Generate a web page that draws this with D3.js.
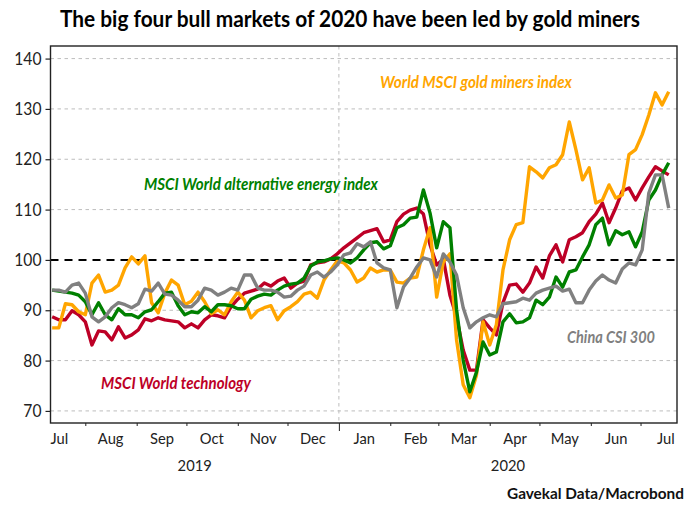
<!DOCTYPE html>
<html>
<head>
<meta charset="utf-8">
<script src="https://cdn.jsdelivr.net/npm/d3@7"></script>
<style>
  html, body { margin: 0; padding: 0; background: #fff; }
  svg { display: block; }
  text { font-family: Lato, "Open Sans", sans-serif; }
</style>
</head>
<body>
<div id="chart"></div>
<script>
// readings, one every 4 days from 12 Jul 2019
const firstDay = new Date(2019, 6, 12)
const stepDays = 4

const goldMiners = [
  86.5, 86.5, 91.3, 91.1, 89.7, 89.1, 95.4, 97.0, 93.6, 94.0,
  95.0, 98.4, 100.6, 99.2, 100.8, 91.5, 89.5, 93.4, 96.0, 95.0,
  91.1, 91.8, 93.6, 91.7, 89.3, 90.1, 89.1, 91.7, 93.6, 92.0,
  88.5, 89.9, 90.5, 90.9, 88.1, 89.9, 90.7, 91.7, 93.2, 93.6,
  92.4, 96.0, 98.0, 99.8, 99.4, 98.0, 95.6, 96.4, 98.4, 97.6,
  98.0, 98.0, 95.6, 95.4, 96.4, 96.6, 102.0, 106.4, 92.6, 99.6,
  101.2, 84.1, 75.2, 72.6, 77.1, 87.7, 83.1, 87.1, 98.0, 104.0,
  107.0, 107.4, 118.5, 117.5, 116.3, 118.3, 118.9, 120.9, 127.4, 121.9,
  115.9, 118.3, 111.3, 111.9, 114.9, 112.3, 112.9, 120.9, 121.9, 124.9,
  128.8, 133.2, 130.8, 133.4
]

const altEnergy = [
  94.0, 93.8, 93.6, 93.4, 93.0, 91.7, 89.1, 91.5, 89.1, 88.1,
  90.3, 89.1, 89.1, 88.5, 89.7, 90.1, 91.7, 93.4, 93.6, 90.9,
  89.1, 89.7, 89.5, 90.7, 89.7, 91.1, 91.1, 90.9, 90.3, 90.3,
  92.2, 92.8, 93.2, 93.0, 94.0, 94.8, 95.2, 95.4, 96.4, 98.8,
  99.6, 99.8, 100.2, 100.4, 100.0, 99.4, 100.4, 102.0, 103.4, 103.6,
  102.2, 102.8, 106.4, 107.0, 108.3, 108.5, 113.9, 109.3, 102.4, 107.6,
  106.4, 90.1, 80.1, 73.8, 77.7, 83.7, 81.1, 81.7, 87.7, 89.3,
  87.5, 87.7, 88.5, 92.0, 91.1, 92.6, 96.6, 94.6, 97.6, 98.0,
  100.6, 103.0, 107.0, 108.3, 103.0, 105.8, 105.0, 105.6, 102.6, 105.6,
  111.9, 113.9, 116.9, 119.3
]

const technology = [
  88.7, 88.1, 88.1, 89.9, 89.1, 87.7, 83.1, 85.9, 85.7, 84.1,
  86.7, 84.5, 85.1, 86.1, 88.3, 87.9, 88.5, 88.1, 87.9, 87.7,
  86.5, 87.3, 86.5, 88.1, 89.1, 88.9, 88.5, 90.7, 92.2, 93.4,
  93.8, 94.2, 95.4, 94.8, 95.8, 96.4, 94.4, 95.4, 95.8, 99.0,
  99.4, 99.6, 100.2, 101.2, 102.4, 103.4, 104.4, 105.4, 105.8, 106.2,
  103.6, 104.0, 107.6, 109.1, 109.9, 110.3, 109.1, 103.0, 99.0, 100.2,
  93.0, 88.7, 82.1, 78.1, 78.1, 88.1, 86.5, 85.1, 91.5, 95.0,
  95.2, 93.6, 95.4, 98.6, 96.4, 100.8, 103.0, 99.6, 104.0, 104.6,
  105.4, 107.6, 109.1, 111.3, 107.4, 110.3, 113.7, 114.3, 111.9, 114.3,
  116.5, 118.5, 117.7, 116.9
]

const csi300 = [
  94.0, 94.0, 93.6, 95.0, 95.4, 93.4, 88.7, 87.7, 88.7, 90.5,
  91.5, 91.1, 90.5, 91.3, 94.2, 93.8, 95.4, 93.2, 93.0, 92.0,
  90.7, 90.7, 92.0, 94.4, 94.0, 93.0, 93.6, 94.4, 94.0, 97.0,
  97.0, 94.4, 94.0, 94.0, 93.6, 92.6, 92.8, 94.0, 94.8, 97.0,
  97.6, 96.6, 97.6, 99.0, 101.0, 101.4, 103.2, 102.6, 103.6, 99.4,
  98.4, 98.0, 90.5, 94.6, 96.4, 98.6, 100.4, 100.0, 96.6, 101.2,
  99.6, 97.0, 90.5, 86.5, 87.7, 88.5, 89.1, 88.7, 91.3, 91.5,
  91.7, 92.4, 92.0, 93.4, 94.0, 94.4, 94.8, 93.8, 94.2, 91.5,
  91.5, 94.0, 95.8, 97.0, 96.0, 95.4, 98.2, 99.4, 99.0, 102.0,
  113.3, 116.9, 116.9, 110.3
]

const yTicks = [70, 80, 90, 100, 110, 120, 130, 140]
const monthLabels = ["Jul", "Aug", "Sep", "Oct", "Nov", "Dec", "Jan", "Feb", "Mar", "Apr", "May", "Jun", "Jul"]
const yearLabels = ["2019", "2020"]

const colors = { gold: "#ffa500", energy: "#008000", tech: "#bd0026", csi: "#808080" }

const width = 700
const height = 507
const plot = { left: 50.5, right: 677, top: 46, bottom: 423 }

const svg = d3.select("#chart").append("svg")
  .attr("width", width)
  .attr("height", height)

const xStart = new Date(2019, 6, 11)
const xEnd = new Date(2020, 6, 23)
const yearBreak = new Date(2020, 0, 1)

const x = d3.scaleTime().domain([xStart, xEnd]).range([plot.left, plot.right])
const y = d3.scaleLinear().domain([67.6, 142.5]).range([plot.bottom, plot.top])

// narrows a label a little, the reference font is more condensed than Lato
const squeeze = (sel, ratio) => sel.each(function () {
  d3.select(this)
    .attr("textLength", this.getComputedTextLength() * ratio)
    .attr("lengthAdjust", "spacingAndGlyphs")
})

// gridlines
svg.append("g").selectAll("line")
  .data(yTicks.filter(d => d !== 100))
  .enter()
    .append("line")
    .attr("x1", plot.left)
    .attr("x2", plot.right)
    .attr("y1", d => y(d))
    .attr("y2", d => y(d))
    .attr("stroke", "#bdbdbd")
    .attr("stroke-width", 1)
    .attr("stroke-dasharray", "3.5,3.5")

svg.append("line")
  .attr("x1", x(yearBreak))
  .attr("x2", x(yearBreak))
  .attr("y1", plot.top)
  .attr("y2", plot.bottom)
  .attr("stroke", "#bdbdbd")
  .attr("stroke-width", 1)
  .attr("stroke-dasharray", "3.5,3.5")

svg.append("line")
  .attr("x1", plot.left)
  .attr("x2", plot.right)
  .attr("y1", y(100))
  .attr("y2", y(100))
  .attr("stroke", "#000")
  .attr("stroke-width", 2)
  .attr("stroke-dasharray", "8,6")

// series
const line = d3.line()
  .x((d, i) => x(d3.timeDay.offset(firstDay, i * stepDays)))
  .y(d => y(d))

const series = [
  [technology, colors.tech],
  [goldMiners, colors.gold],
  [altEnergy, colors.energy],
  [csi300, colors.csi]
]

svg.append("g").selectAll("path")
  .data(series)
  .enter()
    .append("path")
    .attr("d", d => line(d[0]))
    .attr("fill", "none")
    .attr("stroke", d => d[1])
    .attr("stroke-width", 3.4)
    .attr("stroke-linejoin", "round")

// axes
const yAxis = d3.axisLeft(y).tickValues(yTicks).tickSize(5).tickPadding(4)
const gy = svg.append("g")
  .attr("transform", `translate(${plot.left},0)`)
  .call(yAxis)
gy.select(".domain").remove()
gy.selectAll(".tick line").attr("stroke", "#222").attr("stroke-width", 1.2)
gy.selectAll("text")
  .attr("font-size", 17)
  .attr("fill", "#222")
  .style("font-family", "Lato, sans-serif")
  .call(squeeze, 0.92)

const monthStarts = d3.timeMonth.range(new Date(2019, 7, 1), xEnd)
const xTickAxis = d3.axisBottom(x).tickValues(monthStarts).tickSize(3).tickFormat("")
const gx = svg.append("g")
  .attr("transform", `translate(0,${plot.bottom})`)
  .call(xTickAxis)
gx.select(".domain").remove()
gx.selectAll(".tick line")
  .attr("stroke", "#222")
  .attr("y2", d => +d === +yearBreak ? 8 : 3)

const monthMids = d3.timeMonth.range(new Date(2019, 6, 1), new Date(2020, 7, 1))
  .map(d => d3.timeDay.offset(d, 15))

const labelAxis = d3.axisBottom(x)
  .tickValues(monthMids)
  .tickSize(0)
  .tickFormat((d, i) => monthLabels[i])
const gl = svg.append("g")
  .attr("transform", "translate(0,430)")
  .call(labelAxis)
gl.select(".domain").remove()
gl.selectAll("text")
  .attr("font-size", 16)
  .attr("fill", "#222")
  .style("font-family", "Lato, sans-serif")
  .call(squeeze, 0.92)

svg.append("g").selectAll("text")
  .data(yearLabels)
  .enter()
    .append("text")
    .attr("x", (d, i) => i === 0 ? (plot.left + x(yearBreak)) / 2 : (x(yearBreak) + plot.right) / 2)
    .attr("y", 471)
    .attr("text-anchor", "middle")
    .attr("font-size", 16)
    .attr("fill", "#222")
    .text(d => d)
    .call(squeeze, 0.92)

svg.append("rect")
  .attr("x", plot.left)
  .attr("y", plot.top)
  .attr("width", plot.right - plot.left)
  .attr("height", plot.bottom - plot.top)
  .attr("fill", "none")
  .attr("stroke", "#222")
  .attr("stroke-width", 1.4)

// title, series labels, source
const addText = (str, px, py, len, size, color, italic) => svg.append("text")
  .attr("x", px)
  .attr("y", py)
  .attr("textLength", len)
  .attr("lengthAdjust", "spacingAndGlyphs")
  .attr("font-size", size)
  .attr("font-weight", 700)
  .attr("font-style", italic ? "italic" : "normal")
  .attr("fill", color)
  .text(str)

addText("The big four bull markets of 2020 have been led by gold miners", 60, 27, 580, 22.5, "#000", false)
addText("World MSCI gold miners index", 380, 88, 192, 17, colors.gold, true)
addText("MSCI World alternative energy index", 144, 190, 234, 17, colors.energy, true)
addText("MSCI World technology", 101, 389, 150, 17, colors.tech, true)
addText("China CSI 300", 567, 343, 88, 17, colors.csi, true)
addText("Gavekal Data/Macrobond", 507, 499, 177, 16, "#111", false)
</script>
</body>
</html>
